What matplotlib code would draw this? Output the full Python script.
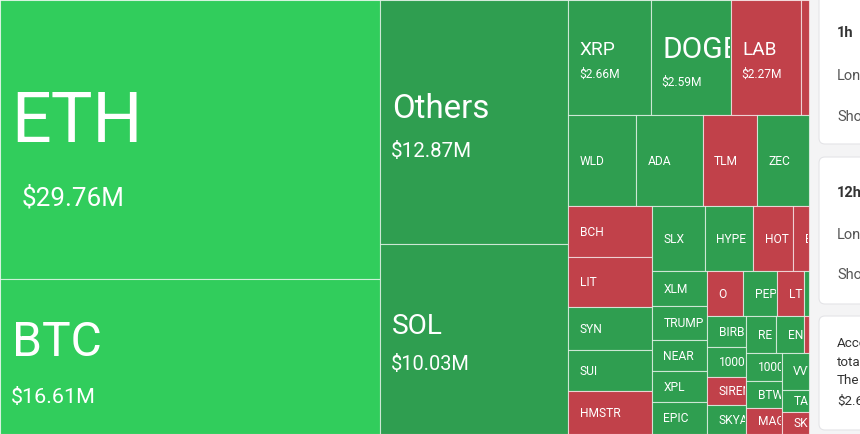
import matplotlib
matplotlib.use("Agg")
import matplotlib.pyplot as plt
from matplotlib.patches import Rectangle, FancyBboxPatch
from matplotlib.transforms import Bbox, TransformedBbox

# ---------------- data (liquidations, $M) ----------------
names = ["ETH", "BTC", "Others", "SOL",
         "XRP", "DOGE", "LAB", "PUMP",
         "WLD", "ADA", "TLM", "ZEC",
         "BCH", "LIT", "SYN", "SUI", "HMSTR",
         "SLX", "HYPE", "HOT", "ETC",
         "XLM", "TRUMP", "NEAR", "XPL", "EPIC",
         "O", "PEPE", "LTC", "AVAX",
         "BIRB", "1000SATS", "SIREN", "SKYAI",
         "RE", "ENA", "LINK",
         "1000BONK", "BTW", "MAGIC",
         "VVV", "TAO", "SKL"]
values = [29.76, 16.61, 12.87, 10.03,
          2.66, 2.59, 2.27, 0.25,
          1.74, 1.69, 1.38, 1.34,
          1.19, 1.17, 1.01, 0.96, 1.01,
          0.97, 0.88, 0.73, 0.29,
          0.54, 0.53, 0.48, 0.48, 0.50,
          0.46, 0.43, 0.34, 0.06,
          0.34, 0.33, 0.31, 0.32,
          0.31, 0.29, 0.05,
          0.28, 0.27, 0.26,
          0.28, 0.17, 0.17]
# 'top' = leading long side, 'up' = long dominated, 'down' = short dominated
trend = ["top", "top", "up", "up",
         "up", "up", "down", "down",
         "up", "up", "down", "up",
         "down", "down", "up", "up", "down",
         "up", "up", "down", "down",
         "up", "up", "up", "up", "up",
         "down", "up", "down", "up",
         "up", "up", "down", "up",
         "up", "up", "down",
         "up", "up", "down",
         "up", "up", "down"]

# grouping of the treemap (row = side by side, col = stacked)
layout_tree = ("row", [
    ("col", ["ETH", "BTC"]),
    ("col", ["Others", "SOL"]),
    ("col", [
        ("row", ["XRP", "DOGE", "LAB", "PUMP"]),
        ("row", ["WLD", "ADA", "TLM", "ZEC"]),
        ("row", [
            ("col", ["BCH", "LIT", "SYN", "SUI", "HMSTR"]),
            ("col", [
                ("row", ["SLX", "HYPE", "HOT", "ETC"]),
                ("row", [
                    ("col", ["XLM", "TRUMP", "NEAR", "XPL", "EPIC"]),
                    ("col", [
                        ("row", ["O", "PEPE", "LTC", "AVAX"]),
                        ("row", [
                            ("col", ["BIRB", "1000SATS", "SIREN", "SKYAI"]),
                            ("col", [
                                ("row", ["RE", "ENA", "LINK"]),
                                ("row", [
                                    ("col", ["1000BONK", "BTW", "MAGIC"]),
                                    ("col", ["VVV", "TAO", "SKL"]),
                                ]),
                            ]),
                        ]),
                    ]),
                ]),
            ]),
        ]),
    ]),
])

# ---------------- styles ----------------
colors = {"top": "#31CD5C", "up": "#2F9E50", "down": "#C1414A"}
# label font sizes in px (name, value) for the large tiles
label_px = {"ETH": (70, 26), "BTC": (48, 21.5), "Others": (33, 20.5), "SOL": (28, 20),
            "XRP": (19, 12), "DOGE": (30, 12), "LAB": (19, 12)}
value_dx = {"ETH": 11}
small_px = 12
FONT = "Roboto"
PX = 0.72  # pt per px at dpi 100

W, H = 860, 434
TREE_W = 809

val = dict(zip(names, values))
col_of = dict(zip(names, trend))


def total(node):
    if isinstance(node, str):
        return val[node]
    return sum(total(c) for c in node[1])


def place(node, x, y, w, h, out):
    if isinstance(node, str):
        out[node] = (x, y, w, h)
        return
    kind, kids = node
    s = total(node)
    pos = 0.0
    for c in kids:
        f = total(c) / s
        if kind == "row":
            place(c, x + pos * w, y, f * w, h, out)
        else:
            place(c, x, y + pos * h, w, f * h, out)
        pos += f


rects = {}
place(layout_tree, 0, 0, TREE_W, H, rects)

fig = plt.figure(figsize=(8.6, 4.34), dpi=100)
ax = fig.add_axes([0, 0, 1, 1])
ax.set_xlim(0, W)
ax.set_ylim(H, 0)
ax.axis("off")

# right panel background + cards
ax.add_patch(Rectangle((TREE_W, -5), W - TREE_W + 10, H + 10, facecolor="#f4f4f5",
                       edgecolor="none", zorder=0))
for (y0, y1) in [(-12, 144), (157, 304), (316, 430)]:
    ax.add_patch(FancyBboxPatch((819, y0), 80, y1 - y0,
                                boxstyle="round,pad=0,rounding_size=6",
                                facecolor="white", edgecolor="#e4e4e7",
                                linewidth=0.8, zorder=1))

card_texts = [
    (33, "1h", "#333333", "bold", 10.5),
    (76, "Long", "#555555", "normal", 10.5),
    (117, "Short", "#555555", "normal", 10.5),
    (193, "12h", "#333333", "bold", 10.5),
    (235, "Long", "#555555", "normal", 10.5),
    (275, "Short", "#555555", "normal", 10.5),
    (343, "According", "#333333", "normal", 9.6),
    (362, "total", "#333333", "normal", 9.6),
    (381, "The", "#333333", "normal", 9.6),
    (401, "$2.66M", "#333333", "normal", 9.6),
]
for y, s, c, wt, fs in card_texts:
    ax.text(837, y, s, color=c, fontsize=fs, fontweight=wt, family=FONT,
            va="center", ha="left", clip_on=True, zorder=3)


def clip_to(txt, x, y, w, h):
    yd0, yd1 = sorted([y, y + h], reverse=True)
    bb = TransformedBbox(Bbox.from_extents(x, yd0, x + w, yd1), ax.transData)
    disp = bb.frozen()
    (x0, y0), (x1, y1) = disp.get_points()
    txt.set_clip_box(Bbox.from_extents(min(x0, x1), min(y0, y1), max(x0, x1), max(y0, y1)))
    txt.set_clip_on(True)


# treemap tiles
for n in names:
    x, y, w, h = rects[n]
    r = Rectangle((x, y), w, h, facecolor=colors[col_of[n]],
                  edgecolor=(1, 1, 1, 0.6), linewidth=0.8, zorder=2)
    ax.add_patch(r)
    cy = y + h / 2
    pad = 10.5
    if n in label_px:
        f1, f2 = label_px[n]
        nb = cy + 0.273 * f1 - 0.64 * f2
        vb = nb + 0.5 * f1 + 1.1 * f2
        t1 = ax.text(x + pad + 1, nb, n, color="white", fontsize=f1 * PX, family=FONT,
                     va="baseline", ha="left", zorder=3)
        t2 = ax.text(x + pad + value_dx.get(n, 0), vb, f"${val[n]:.2f}M", color="white",
                     fontsize=f2 * PX, family=FONT, va="baseline", ha="left", zorder=3)
        clip_to(t1, x, y, w - 1, h)
        clip_to(t2, x, y, w - 1, h)
    else:
        t = ax.text(x + pad + 1, cy + 0.355 * small_px, n, color="white",
                    fontsize=small_px * PX, family=FONT, va="baseline", ha="left", zorder=3)
        clip_to(t, x, y, w - 1, h)

fig.savefig("out.png", dpi=100)
